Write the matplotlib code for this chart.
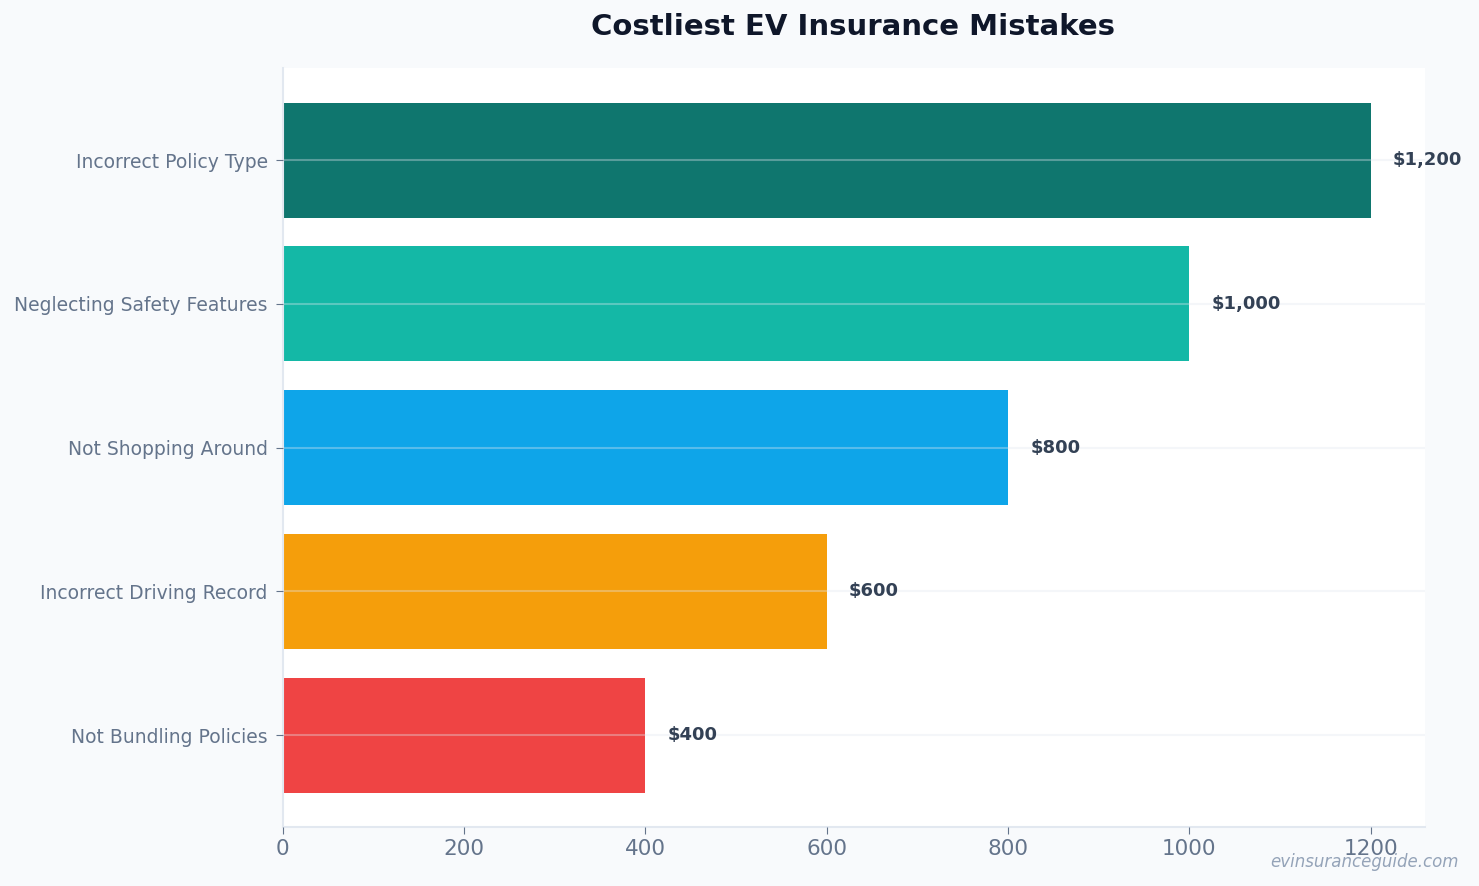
import matplotlib.pyplot as plt

# Data
mistakes = ['Incorrect Policy Type', 'Neglecting Safety Features', 'Not Shopping Around',
            'Incorrect Driving Record', 'Not Bundling Policies']
costs = [1200, 1000, 800, 600, 400]
colors = ['#0f766e', '#14b8a6', '#0ea5e9', '#f59e0b', '#ef4444']

fig = plt.figure(figsize=(14.79, 8.86), dpi=100, facecolor='#f8fafc')
ax = fig.add_axes([0.1913, 0.0665, 0.7722, 0.8567])
ax.set_facecolor('white')

ypos = list(range(len(mistakes)))[::-1]
ax.barh(ypos, costs, height=0.8, color=colors, zorder=1)

# value labels
for y, v in zip(ypos, costs):
    ax.annotate(f'${v:,}', xy=(v, y), xytext=(16, 0), textcoords='offset points',
                va='center', ha='left', fontsize=13, fontweight='bold', color='#334155')

ax.set_yticks(ypos)
ax.set_yticklabels(mistakes)
ax.set_xlim(0, 1260)
ax.set_xticks([0, 200, 400, 600, 800, 1000, 1200])

ax.grid(axis='y', color='#e2e8f0', alpha=0.35, linewidth=1.5, zorder=2)
ax.set_axisbelow(False)
ax.grid(axis='x', visible=False)

for s in ['top', 'right']:
    ax.spines[s].set_visible(False)
for s in ['left', 'bottom']:
    ax.spines[s].set_color('#e2e8f0')
    ax.spines[s].set_linewidth(1.5)

ax.tick_params(axis='y', labelsize=13.5, labelcolor='#64748b', color='#64748b', length=5, pad=6)
ax.tick_params(axis='x', labelsize=15.5, labelcolor='#64748b', color='#64748b', length=5)

fig.suptitle('Costliest EV Insurance Mistakes', x=0.5765, y=0.969, fontsize=21,
             fontweight='bold', color='#0f172a', va='center')

fig.text(0.986, 0.027, 'evinsuranceguide.com', ha='right', va='center', fontsize=12,
         style='italic', color='#94a3b8')

fig.savefig('out.png', dpi=100, facecolor=fig.get_facecolor())
